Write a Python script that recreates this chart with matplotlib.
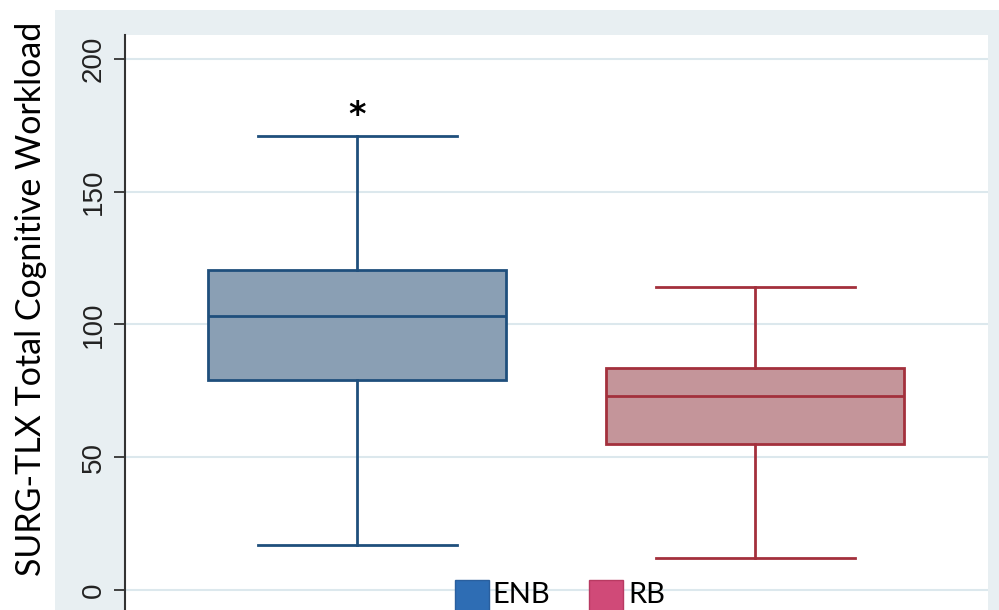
import matplotlib.pyplot as plt
from matplotlib.patches import Rectangle

# summary statistics per group (whisker low, Q1, median, Q3, whisker high)
groups = ["ENB", "RB"]
whislo = [17, 12]
q1 = [79, 55]
med = [103, 73]
q3 = [120.5, 83.5]
whishi = [171, 114]

fills = ["#8a9fb4", "#c4959a"]
edges = ["#1f4f7c", "#a3303c"]
legend_colors = ["#2e6db4", "#d04a78"]
legend_edges = ["#2a5f9e", "#b83a62"]
yticks = [0, 50, 100, 150, 200]

W, H = 999, 610
fig = plt.figure(figsize=(W / 100, H / 100), dpi=100)
fig.patch.set_facecolor("white")

# light outer panel behind the plot region
panel = Rectangle((55 / W, 0), 1 - 55 / W, 1 - 10 / H,
                  transform=fig.transFigure, facecolor="#e8eff2",
                  edgecolor="none", zorder=-5)
fig.patches.append(panel)

# plot region runs off the bottom edge of the figure
ax = fig.add_axes([125 / W, 1 - 650 / H, (988 - 125) / W, 615 / H])
ax.set_zorder(1)
ax.set_facecolor("white")
ax.set_ylim(-22.6, 209.0)
ax.set_xlim(0.417, 2.585)

stats = []
for i, g in enumerate(groups):
    stats.append(dict(label=g, whislo=whislo[i], q1=q1[i], med=med[i],
                      q3=q3[i], whishi=whishi[i], fliers=[]))

for i, s in enumerate(stats):
    ax.bxp([s], positions=[i + 1], widths=0.749, capwidths=[0.5],
           showfliers=False, patch_artist=True,
           boxprops=dict(facecolor=fills[i], edgecolor=edges[i], linewidth=2),
           medianprops=dict(color=edges[i], linewidth=2),
           whiskerprops=dict(color=edges[i], linewidth=2),
           capprops=dict(color=edges[i], linewidth=2))

ax.text(1, whishi[0] + 7.5, "*", ha="center", va="center", fontsize=24,
        fontweight="bold", family="DejaVu Sans", color="black")

for y in yticks:
    ax.axhline(y, color="#dce8ed", linewidth=1.5, zorder=0)

ax.set_yticks(yticks)
ax.set_yticklabels([str(t) for t in yticks], rotation=90, va="center",
                   fontsize=20, family="Liberation Sans", color="#222222")
ax.tick_params(axis="y", length=8, width=1.3, color="#333333", pad=5)
ax.set_xticks([])
for side in ["top", "right", "bottom"]:
    ax.spines[side].set_visible(False)
ax.spines["left"].set_color("#333333")
ax.spines["left"].set_linewidth(1.5)

fig.text(31 / W, 1 - 299 / H, "SURG-TLX Total Cognitive Workload",
         rotation=90, ha="center", va="center", fontsize=24.5, family="Lato")

# legend drawn as filled squares with labels
sq = [455, 589]
txt = [492, 628]
for i, g in enumerate(groups):
    fig.patches.append(Rectangle((sq[i] / W, 1 - 640 / H), 34 / W, 60 / H,
                                 transform=fig.transFigure,
                                 facecolor=legend_colors[i],
                                 edgecolor=legend_edges[i],
                                 linewidth=1, zorder=5))
    fig.text(txt[i] / W, 1 - 603 / H, g, ha="left", va="baseline",
             fontsize=21, family="Lato", zorder=5)

fig.savefig("out.png", dpi=100)
